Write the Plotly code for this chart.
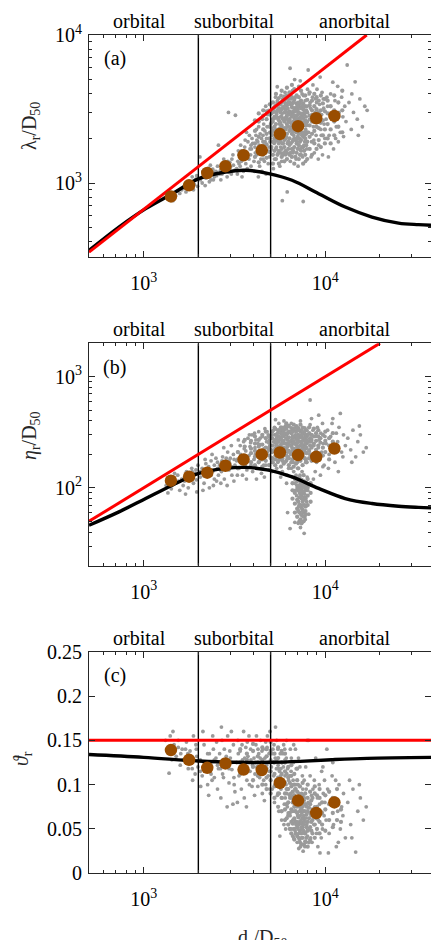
import math
import plotly.graph_objects as go

FONT = "Liberation Serif"
INK = "#262626"

# Regime boundaries and labels (ds/D50)
REGIME_BOUNDS = [2000, 5000]
REGIME_NAMES = ["orbital", "suborbital", "anorbital"]
REGIME_LABEL_X = [943, 3160, 14500]

# Bin-averaged values
BIN_DS = [1413, 1778, 2239, 2818, 3548, 4467, 5623, 7079, 8913, 11220]
BIN_LAMBDA = [812, 964, 1169, 1297, 1540, 1663, 2140, 2420, 2740, 2840]
BIN_ETA = [116, 126, 137, 158, 180, 200, 208, 197, 190, 226]
BIN_THETA = [0.139, 0.128, 0.119, 0.124, 0.117, 0.1165, 0.102, 0.082, 0.068, 0.080]

# Model curve (black)
MODEL_DS = [500, 731, 1026, 1439, 2013, 2825, 3633, 4878, 6560, 9190, 12880, 18070, 25300, 32600, 38200]
MODEL_LAMBDA = [350, 504, 671, 847, 1071, 1187, 1219, 1158, 1043, 847, 688, 589, 536, 523, 518]
MODEL_ETA = [46.1, 60.8, 80.2, 105.7, 134.8, 149.6, 152.8, 144.3, 125.6, 98.8, 80.2, 72.3, 68.4, 66.8, 66.1]
THETA_DS = [500, 1000, 2000, 3130, 5000, 7270, 11000, 17000, 38200]
MODEL_THETA = [0.134, 0.1308, 0.1267, 0.1252, 0.1252, 0.1263, 0.1282, 0.1297, 0.1308]

# Orbital-scaling lines (red)
RED_DS_A = [500, 16900]
RED_LAMBDA = [341, 10000]
RED_DS_B = [500, 20000]
RED_ETA = [50, 2000]
RED_DS_C = [500, 40000]
RED_THETA = [0.15, 0.15]

# Individual observations (ds/D50, lambda_r/D50)
SCAT_A = [
    (1330, 800), (1380, 830), (1420, 790), (1460, 860), (1500, 820), (1540, 880), (1580, 850), (1620, 900), (1360, 870), (1450, 760),
    (1680, 920), (1710, 870), (1750, 960), (1790, 1000), (1820, 930), (1860, 1020), (1900, 980), (1940, 1060), (1980, 950), (1720, 1010),
    (1850, 1100), (1960, 1120), (2040, 1500), (1880, 900),
    (2050, 1050), (2100, 1000), (2150, 1130), (2200, 1080), (2250, 1180), (2300, 1020), (2350, 1150), (2400, 1240), (2450, 1100),
    (2500, 1200), (2550, 1300), (2120, 1200), (2280, 1260), (2420, 1050), (2580, 1800), (2180, 960), (2520, 1120), (2330, 1320),
    (2620, 1150), (2680, 1250), (2720, 1350), (2780, 1200), (2840, 1300), (2900, 1400), (2950, 1180), (3000, 1280), (3060, 1450),
    (3120, 1320), (3180, 1220), (2660, 1050), (2760, 1450), (2880, 1100), (3040, 1150), (2930, 3000), (3200, 2870), (3100, 1550),
    (2980, 1380), (2700, 1150),
    (3250, 1250), (3300, 1400), (3350, 1550), (3400, 1300), (3450, 1650), (3500, 1450), (3550, 1200), (3600, 1750), (3650, 1350),
    (3700, 1600), (3750, 1900), (3800, 1450), (3850, 1700), (3900, 1300), (3950, 2000), (3280, 1150), (3420, 1800), (3580, 1500),
    (3720, 1250), (3880, 1550), (3980, 1850), (3320, 1650), (3680, 2200), (3820, 2100), (3480, 1100), (3620, 1950), (3920, 1700),
    (4050, 1400), (4100, 1750), (4150, 2100), (4200, 1550), (4250, 1900), (4300, 2400), (4350, 1300), (4400, 1650), (4450, 2000),
    (4500, 2700), (4550, 1450), (4600, 1800), (4650, 2250), (4700, 1600), (4750, 2000), (4800, 2900), (4850, 1350), (4900, 1750),
    (4950, 2200), (5000, 2500), (4080, 1200), (4180, 2300), (4320, 1800), (4480, 1200), (4620, 1400), (4780, 2400), (4920, 1500),
    (4120, 1600), (4380, 2150), (4580, 2500), (4700, 3300), (4880, 3100), (4200, 1950), (4420, 1450), (4660, 1900), (4960, 1900),
    (4280, 1100), (4540, 2100), (4820, 1650), (4720, 1150),
    (5050, 1700), (5100, 2100), (5150, 2600), (5200, 3200), (5250, 1450), (5300, 1900), (5350, 2300), (5400, 2900), (5450, 3600),
    (5500, 1600), (5550, 2000), (5600, 2500), (5650, 3100), (5700, 3900), (5750, 1400), (5800, 1850), (5850, 2200), (5900, 2700),
    (5950, 3300), (6000, 4100), (6050, 1550), (6100, 2050), (6150, 2400), (6200, 2900), (6250, 3500), (5080, 2350), (5180, 1250),
    (5280, 2750), (5380, 1750), (5480, 2200), (5580, 3400), (5680, 1750), (5780, 2950), (5880, 1600), (5980, 2300), (6080, 3700),
    (6180, 1850), (6280, 2600), (5120, 3000), (5320, 3800), (5440, 4470), (5620, 1300), (5820, 3550), (6020, 2000), (6220, 3200),
    (5800, 760), (6170, 870), (5360, 2050), (5520, 2750), (5720, 2350), (5920, 2050), (6120, 2750), (5230, 1850), (5660, 2800),
    (6060, 3050),
    (6350, 1800), (6400, 5960), (6450, 2300), (6500, 2800), (6550, 3400), (6600, 4200), (6650, 1600), (6700, 2100), (6750, 2600),
    (6800, 3100), (6850, 3800), (6900, 1450), (6950, 1900), (7000, 2400), (7050, 2900), (7100, 3500), (7150, 4500), (7200, 2000),
    (7250, 1700), (7300, 2700), (7350, 3200), (7400, 2200), (7450, 4000), (7500, 1500), (7560, 750), (7600, 2500), (7650, 3000),
    (7700, 1900), (7750, 3600), (7800, 2300), (7850, 2800), (7900, 1700), (7950, 3300), (6380, 2600), (6480, 3700), (6580, 1900),
    (6680, 2900), (6780, 5000), (6880, 2200), (6980, 3300), (7080, 1300), (7180, 2600), (7280, 4900), (7380, 1550), (7480, 2500),
    (7580, 3900), (7680, 2100), (7780, 1400), (7880, 2500), (7980, 4300), (6420, 1400), (6720, 3500), (7020, 2000), (7320, 2400),
    (7620, 1800), (6550, 2500), (6920, 2700), (7420, 2950),
    (8050, 5800), (8100, 2200), (8200, 2700), (8300, 3200), (8400, 1900), (8500, 3800), (8600, 2400), (8700, 1600), (8800, 3000),
    (8900, 2100), (9000, 4300), (9100, 2600), (9200, 1800), (9300, 3400), (9370, 5200), (9450, 2300), (9550, 2900), (9650, 1550),
    (9750, 3700), (9850, 2500), (9950, 2000), (8150, 4000), (8350, 1500), (8550, 4600), (8750, 2600), (8950, 3500), (9150, 1450),
    (9350, 2700), (9600, 4100), (9800, 3200), (8250, 3500), (8650, 1950), (9050, 2900), (9500, 2100), (8450, 2900), (8850, 3700),
    (10100, 2700), (10300, 3300), (10500, 2100), (10700, 4000), (10900, 2900), (11100, 1700), (11300, 3600), (11500, 2400),
    (11700, 4500), (11900, 3000), (12100, 2200), (12300, 3800), (12600, 2060), (12800, 3300), (13000, 2600), (13200, 6270),
    (10400, 1500), (11000, 4800), (11800, 1900), (12500, 2800), (10200, 3800), (11400, 2000),
    (13500, 3500), (13900, 2300), (14300, 3000), (14600, 4830), (15000, 2700), (15500, 3700), (16000, 2400), (16500, 3300),
    (17000, 3100), (14000, 4000), (15200, 2100),
    (3350, 1350), (3550, 1650), (3750, 1500), (3900, 1800), (3450, 1400), (3650, 1550),
    (2250, 1100), (2450, 1180), (2650, 1220), (2850, 1250), (2350, 1050), (2750, 1300),
]
# Dense core of the same cloud, grouped by ds/D50
DENSE_A = [
    (4100, [1500, 1850, 2250, 2650]), (4300, [1380, 1700, 2050, 2600, 2950]), (4550, [1550, 1900, 2300, 2850, 3100]),
    (4750, [1480, 1820, 2150, 2700, 3050]), (4950, [1620, 2000, 2400, 2900, 3400]),
    (5150, [1350, 1550, 1900, 2250, 2700, 3100, 3500]), (5350, [1450, 1700, 2100, 2500, 3000, 3350, 4000]),
    (5550, [1350, 1650, 1850, 2300, 2650, 3200, 3750]), (5750, [1500, 1700, 2050, 2450, 2800, 3150, 3500, 4200]),
    (5950, [1400, 1750, 1950, 2350, 2600, 3000, 3600, 3850]), (6150, [1450, 1600, 2150, 2500, 2850, 3350, 3900, 4400]),
    (6350, [1550, 2000, 2250, 2700, 3050, 3500, 4100]), (6550, [1500, 1700, 2150, 2400, 2950, 3250, 3800, 4600]),
    (6750, [1350, 1750, 2000, 2350, 2750, 3200, 3650, 4300]), (6950, [1600, 1850, 2200, 2550, 2850, 3450, 3900]),
    (7150, [1450, 1800, 2150, 2450, 3000, 3300, 3800]), (7350, [1650, 1950, 2350, 2600, 2900, 3600, 4200]),
    (7550, [1350, 1750, 2050, 2750, 3150, 3450]), (7750, [1550, 2000, 2450, 2650, 3300, 3900]),
    (7950, [1450, 1900, 2200, 2600, 3000, 3650]), (8200, [1700, 2050, 2450, 2850, 3350, 4100]),
    (8450, [1550, 2150, 2600, 3100, 3600]), (8700, [1850, 2250, 2800, 3300, 4000]), (8950, [1700, 2400, 2700, 3150, 3800]),
    (9200, [1950, 2350, 3000, 3600]), (9450, [1750, 2550, 3100, 3900]), (9700, [2100, 2650, 3450]),
    (9950, [1850, 2300, 3050, 3700]), (10300, [2000, 2500, 2950, 3600]), (10700, [1850, 2300, 3300]),
    (11200, [2100, 2600, 3100, 3900]), (11800, [2400, 2800, 3500]), (12400, [2200, 3100, 4200]),
    (5050, [1750, 2150, 2550, 2950]), (5250, [1650, 2000, 2400, 2800, 3250]), (5450, [1550, 1950, 2200, 2750, 3100, 3500]),
    (5650, [1600, 1900, 2350, 2550, 3000, 3400]), (5850, [1550, 1850, 2250, 2700, 3250, 3700]),
    (6050, [1650, 2000, 2300, 2750, 3150, 3450]), (6250, [1700, 1900, 2400, 2650, 3000, 3700]),
    (6450, [1600, 1850, 2300, 2550, 2900, 3400]), (6650, [1650, 1950, 2250, 2600, 3050, 3500]),
    (6850, [1500, 1950, 2400, 2700, 3050]), (7050, [1700, 2050, 2350, 2700, 3150]), (7250, [1550, 1900, 2250, 2750, 3450]),
    (7450, [1750, 2100, 2450, 2800, 3300]), (7650, [1650, 2200, 2550, 2900]), (7850, [1800, 2150, 2450, 3100]),
]

# Individual observations (ds/D50, eta_r/D50)
SCAT_B = [
    (1330, 105), (1380, 118), (1420, 98), (1460, 125), (1500, 110), (1540, 130), (1580, 95), (1620, 120), (1360, 90), (1480, 135),
    (1680, 115), (1720, 140), (1760, 100), (1800, 125), (1840, 150), (1880, 110), (1920, 135), (1960, 92), (1990, 160), (1700, 88),
    (1850, 120), (1940, 145),
    (2050, 125), (2100, 150), (2150, 110), (2200, 165), (2250, 135), (2300, 100), (2350, 175), (2400, 140), (2450, 120), (2500, 185),
    (2550, 150), (2120, 95), (2280, 155), (2420, 105), (2580, 130), (2180, 180), (2380, 200), (2520, 115),
    (2620, 160), (2680, 140), (2720, 190), (2780, 120), (2840, 170), (2900, 210), (2950, 145), (3000, 185), (3060, 130), (3120, 200),
    (3180, 160), (2660, 110), (2760, 230), (2880, 105), (3040, 240), (3140, 115), (2980, 165), (2700, 175),
    (3250, 175), (3300, 210), (3350, 150), (3400, 240), (3450, 190), (3500, 130), (3550, 260), (3600, 170), (3650, 215), (3700, 145),
    (3750, 280), (3800, 195), (3850, 235), (3900, 160), (3950, 300), (3280, 130), (3420, 200), (3580, 225), (3720, 185), (3880, 255),
    (3980, 140), (3320, 270), (3680, 120), (3820, 300), (3480, 165),
    (4050, 180), (4100, 230), (4150, 270), (4200, 150), (4250, 205), (4300, 320), (4350, 175), (4400, 245), (4450, 135), (4500, 290),
    (4550, 195), (4600, 225), (4650, 340), (4700, 160), (4750, 260), (4800, 210), (4850, 300), (4900, 145), (4950, 240), (5000, 185),
    (4080, 310), (4180, 120), (4320, 215), (4480, 190), (4620, 125), (4780, 320), (4920, 270), (4120, 200), (4380, 280), (4580, 160),
    (4880, 230), (4700, 195), (4260, 250),
    (5050, 220), (5100, 300), (5150, 170), (5200, 260), (5250, 350), (5300, 195), (5350, 240), (5400, 150), (5450, 310), (5500, 210),
    (5550, 380), (5600, 180), (5650, 270), (5700, 230), (5750, 330), (5800, 140), (5850, 200), (5900, 290), (5950, 250), (6000, 170),
    (6050, 360), (6100, 215), (6150, 130), (6200, 280), (6250, 190), (5080, 140), (5180, 330), (5280, 270), (5380, 200), (5480, 170),
    (5580, 290), (5680, 125), (5780, 250), (5880, 350), (5980, 220), (6080, 280), (6180, 240), (6280, 150), (5320, 410), (5620, 330),
    (5920, 400), (6120, 110), (5220, 215), (5520, 260), (5820, 185), (6020, 310),
    (6350, 260), (6400, 320), (6450, 200), (6500, 380), (6550, 230), (6600, 290), (6650, 170), (6700, 340), (6750, 250), (6800, 210),
    (6850, 300), (6900, 190), (6950, 360), (7000, 240), (7050, 280), (7100, 220), (7150, 330), (7200, 180), (7250, 260), (7300, 400),
    (7350, 200), (7400, 300), (7450, 240), (7500, 350), (7550, 190), (7600, 280), (7650, 220), (7700, 320), (7750, 250), (7800, 170),
    (7850, 300), (7900, 230), (7950, 270),
    (6500, 150), (6600, 125), (6700, 140), (6800, 110), (6900, 130), (7000, 100), (7100, 120), (7200, 90), (7300, 110), (7400, 80),
    (7500, 100), (7600, 70), (7700, 88), (7800, 62), (7900, 75), (6950, 85), (7150, 68), (7350, 58), (7550, 55), (7750, 52),
    (7050, 150), (7250, 130), (7450, 140), (7650, 115), (7850, 105), (6850, 95), (7500, 62), (7100, 48), (7300, 44), (6800, 49),
    (7650, 39), (6400, 43), (6200, 60), (8000, 95), (8100, 58), (7950, 125),
    (8050, 300), (8150, 220), (8250, 370), (8350, 260), (8450, 190), (8550, 330), (8650, 240), (8750, 200), (8850, 290), (8950, 170),
    (9050, 350), (9150, 230), (9250, 270), (9350, 180), (9450, 310), (9550, 210), (9650, 380), (9750, 250), (9850, 160), (9950, 290),
    (8250, 617), (8400, 420), (9200, 450), (9700, 155), (8800, 140), (9400, 130), (8600, 120),
    (10100, 250), (10300, 330), (10500, 200), (10700, 290), (10900, 380), (11100, 230), (11300, 170), (11500, 310), (11700, 260),
    (11900, 350), (12100, 467), (12300, 210), (12600, 300), (12900, 240), (10400, 150), (11000, 420), (11800, 140), (12500, 190),
    (13300, 280), (13800, 220), (14200, 330), (14700, 190), (15100, 260), (15600, 300), (16200, 210), (16800, 230), (14000, 170),
    (15400, 360),
    (1550, 115), (1650, 105), (1750, 130), (1850, 140), (1950, 118), (2050, 140), (2150, 128), (2250, 150), (2350, 130),
    (2450, 160), (2550, 170), (2650, 145), (2750, 155), (2850, 185), (2950, 175), (3050, 155), (3150, 180),
]
DENSE_B = [
    (3300, [150, 180, 210]), (3600, [160, 195, 235, 270]), (3900, [170, 205, 225, 265]), (4100, [160, 190, 215, 250, 290]),
    (4300, [170, 200, 235, 270]), (4500, [155, 180, 215, 245, 300]), (4700, [175, 205, 230, 280, 320]),
    (4900, [160, 195, 220, 255, 290]), (5100, [170, 185, 210, 240, 280, 320]), (5300, [160, 180, 225, 255, 300, 340]),
    (5500, [175, 195, 235, 265, 290, 330]), (5700, [155, 185, 210, 245, 275, 310, 350]),
    (5900, [165, 200, 230, 265, 300, 330]), (6100, [175, 195, 225, 250, 300, 340, 380]),
    (6300, [160, 185, 215, 245, 285, 320, 360]), (6500, [170, 205, 240, 265, 310, 345]),
    (6700, [155, 190, 225, 260, 290, 330, 370]), (6900, [165, 215, 245, 275, 320, 350]),
    (7100, [150, 195, 230, 265, 300, 345]), (7300, [175, 210, 240, 285, 320, 370]), (7500, [160, 200, 230, 265, 305]),
    (7700, [185, 210, 240, 280, 345]), (7900, [170, 205, 250, 290, 330]), (8150, [185, 215, 260, 310, 350]),
    (8400, [175, 230, 270, 300]), (8650, [200, 250, 290, 340]), (8900, [190, 220, 265, 310]), (9150, [180, 240, 290, 330]),
    (9400, [205, 255, 280]), (9700, [195, 230, 300]), (10000, [210, 265, 320]), (10500, [180, 240, 280]),
    (11000, [220, 260, 310]),
    (5400, [190, 215, 250, 280]), (5800, [175, 220, 255, 290, 320]), (6200, [185, 210, 235, 270, 310]),
    (6600, [180, 215, 250, 280, 320]), (7000, [170, 205, 230, 255, 290, 330]), (7400, [190, 220, 250, 290, 330]),
    (7800, [180, 225, 260, 300]), (8250, [200, 240, 280]),
    (6600, [110, 95, 80]), (6800, [120, 90, 72, 60]), (7000, [115, 105, 78, 65, 55]), (7200, [125, 100, 82, 70, 60, 50]),
    (7400, [118, 95, 85, 66, 57, 48]), (7600, [130, 105, 90, 78, 60, 50]), (7800, [110, 95, 80, 68, 58]),
    (8000, [120, 100, 85, 70]), (8300, [110, 90, 75]),
    (7100, [95, 75, 62]), (7300, [105, 88, 70, 52]), (7500, [112, 92, 75, 64]), (7700, [100, 82, 70, 55]),
]

# Individual observations (ds/D50, steepness)
SCAT_C = [
    (1320, 0.150), (1360, 0.138), (1400, 0.155), (1430, 0.128), (1470, 0.145), (1510, 0.132), (1550, 0.150), (1590, 0.122),
    (1630, 0.140), (1380, 0.113), (1450, 0.160), (1600, 0.135),
    (1680, 0.127), (1720, 0.148), (1760, 0.118), (1800, 0.138), (1840, 0.125), (1880, 0.155), (1920, 0.112), (1960, 0.132),
    (1990, 0.120), (1700, 0.140), (1860, 0.105), (1940, 0.145), (1780, 0.130),
    (2050, 0.128), (2100, 0.110), (2150, 0.145), (2200, 0.118), (2250, 0.100), (2300, 0.135), (2350, 0.122), (2400, 0.155),
    (2450, 0.108), (2500, 0.130), (2550, 0.095), (2120, 0.160), (2280, 0.088), (2420, 0.140), (2580, 0.118), (2180, 0.125),
    (2380, 0.105), (2520, 0.148), (2060, 0.098),
    (2620, 0.135), (2680, 0.165), (2720, 0.112), (2780, 0.140), (2840, 0.122), (2900, 0.155), (2950, 0.102), (3000, 0.130),
    (3060, 0.117), (3120, 0.145), (3180, 0.092), (2660, 0.085), (2760, 0.125), (2880, 0.075), (3040, 0.160), (3140, 0.108),
    (2980, 0.138), (2700, 0.150), (3100, 0.078),
    (3250, 0.125), (3300, 0.150), (3350, 0.110), (3400, 0.138), (3450, 0.095), (3500, 0.128), (3550, 0.160), (3600, 0.118),
    (3650, 0.142), (3700, 0.105), (3750, 0.132), (3800, 0.155), (3850, 0.115), (3900, 0.128), (3950, 0.098), (3280, 0.080),
    (3420, 0.120), (3580, 0.085), (3720, 0.148), (3880, 0.140), (3980, 0.122), (3320, 0.135), (3680, 0.075), (3820, 0.100),
    (3480, 0.145), (3600, 0.130),
    (4050, 0.130), (4100, 0.112), (4150, 0.145), (4200, 0.120), (4250, 0.098), (4300, 0.135), (4350, 0.108), (4400, 0.150),
    (4450, 0.125), (4500, 0.090), (4550, 0.140), (4600, 0.115), (4650, 0.130), (4700, 0.100), (4750, 0.122), (4800, 0.155),
    (4850, 0.110), (4900, 0.135), (4950, 0.095), (5000, 0.128), (4080, 0.088), (4180, 0.155), (4320, 0.118), (4480, 0.138),
    (4620, 0.082), (4780, 0.142), (4920, 0.115), (4120, 0.125), (4380, 0.130), (4580, 0.105), (4880, 0.125), (4700, 0.148),
    (4260, 0.140), (4960, 0.160), (4500, 0.118),
    (5050, 0.120), (5100, 0.095), (5150, 0.140), (5200, 0.110), (5250, 0.080), (5300, 0.130), (5350, 0.105), (5400, 0.150),
    (5450, 0.088), (5500, 0.122), (5550, 0.070), (5600, 0.115), (5650, 0.135), (5700, 0.095), (5750, 0.060), (5800, 0.125),
    (5850, 0.100), (5900, 0.145), (5950, 0.078), (6000, 0.110), (6050, 0.050), (6100, 0.130), (6150, 0.090), (6200, 0.118),
    (6250, 0.068), (5080, 0.135), (5180, 0.125), (5280, 0.100), (5380, 0.118), (5480, 0.140), (5580, 0.090), (5680, 0.110),
    (5780, 0.085), (5880, 0.120), (5980, 0.140), (6080, 0.100), (6180, 0.075), (6280, 0.105), (5320, 0.165), (5620, 0.042),
    (5920, 0.055), (6120, 0.150), (5220, 0.145), (5520, 0.102), (5820, 0.135), (6020, 0.085), (5400, 0.128), (5700, 0.118),
    (6000, 0.128), (6200, 0.095),
    (6350, 0.110), (6400, 0.065), (6450, 0.090), (6500, 0.130), (6550, 0.050), (6600, 0.080), (6650, 0.105), (6700, 0.040),
    (6750, 0.070), (6800, 0.095), (6850, 0.140), (6900, 0.055), (6950, 0.085), (7000, 0.035), (7050, 0.065), (7100, 0.100),
    (7150, 0.045), (7200, 0.075), (7250, 0.120), (7300, 0.030), (7350, 0.060), (7400, 0.090), (7450, 0.050), (7500, 0.080),
    (7550, 0.025), (7600, 0.065), (7650, 0.105), (7700, 0.045), (7750, 0.070), (7800, 0.035), (7850, 0.095), (7900, 0.055),
    (7950, 0.150), (6380, 0.085), (6480, 0.115), (6580, 0.070), (6680, 0.125), (6780, 0.060), (6880, 0.100), (6980, 0.075),
    (7080, 0.050), (7180, 0.090), (7280, 0.065), (7380, 0.040), (7480, 0.110), (7580, 0.055), (7680, 0.085), (7780, 0.058),
    (7880, 0.075), (7980, 0.042), (6420, 0.140), (6720, 0.088), (7020, 0.058), (7320, 0.078), (7620, 0.048), (6550, 0.100),
    (6920, 0.118), (7420, 0.068), (7120, 0.130), (6620, 0.060), (7220, 0.038), (7520, 0.095), (6820, 0.048), (7720, 0.030),
    (7060, 0.082), (7360, 0.052), (6700, 0.145), (7800, 0.120), (7150, 0.028),
    (8050, 0.080), (8150, 0.050), (8250, 0.110), (8350, 0.065), (8450, 0.035), (8550, 0.095), (8650, 0.055), (8750, 0.075),
    (8850, 0.130), (8950, 0.045), (9050, 0.085), (9150, 0.060), (9250, 0.100), (9350, 0.023), (9450, 0.070), (9550, 0.115),
    (9650, 0.050), (9750, 0.090), (9850, 0.065), (9950, 0.080), (8100, 0.150), (8300, 0.040), (8700, 0.105), (9100, 0.030),
    (9500, 0.040), (9900, 0.105), (8400, 0.088), (8900, 0.062), (9300, 0.078), (9700, 0.120),
    (10100, 0.060), (10300, 0.095), (10500, 0.045), (10700, 0.080), (10900, 0.110), (11100, 0.055), (11300, 0.085),
    (11500, 0.030), (11700, 0.070), (11900, 0.100), (12100, 0.050), (12300, 0.075), (12600, 0.090), (12900, 0.040),
    (10400, 0.023), (11000, 0.125), (11800, 0.035), (12500, 0.065), (10200, 0.140), (11400, 0.105),
    (13300, 0.080), (13800, 0.055), (14200, 0.095), (14700, 0.024), (15100, 0.070), (15600, 0.085), (16200, 0.060),
    (16800, 0.075), (14000, 0.040), (15400, 0.100), (13600, 0.105),
    (1550, 0.142), (1650, 0.128), (1750, 0.135), (1850, 0.118), (1950, 0.140), (2050, 0.115), (2150, 0.125), (2250, 0.135),
    (2350, 0.112), (2450, 0.128), (2550, 0.122), (2650, 0.118), (2750, 0.108), (2850, 0.132), (2950, 0.118), (3050, 0.125),
    (3150, 0.100),
]
DENSE_C = [
    (3400, [0.112, 0.125, 0.140]), (3700, [0.118, 0.128, 0.135]), (4000, [0.105, 0.120, 0.138, 0.146]),
    (4250, [0.110, 0.125, 0.132]), (4500, [0.100, 0.112, 0.128, 0.142]), (4750, [0.095, 0.108, 0.118, 0.132, 0.140]),
    (5000, [0.090, 0.105, 0.115, 0.125, 0.138, 0.148]), (5250, [0.085, 0.098, 0.112, 0.125, 0.135]),
    (5500, [0.075, 0.090, 0.108, 0.118, 0.130, 0.142]), (5750, [0.070, 0.085, 0.098, 0.112, 0.125, 0.138]),
    (6000, [0.060, 0.072, 0.090, 0.102, 0.115, 0.125, 0.135]), (6250, [0.055, 0.065, 0.080, 0.095, 0.108, 0.120]),
    (6500, [0.045, 0.058, 0.072, 0.085, 0.098, 0.110, 0.122]), (6750, [0.038, 0.050, 0.062, 0.075, 0.088, 0.100, 0.112]),
    (7000, [0.042, 0.052, 0.068, 0.078, 0.092, 0.105, 0.118]), (7250, [0.035, 0.048, 0.058, 0.070, 0.085, 0.098]),
    (7500, [0.040, 0.052, 0.062, 0.075, 0.088, 0.102]), (7750, [0.036, 0.045, 0.062, 0.078, 0.090]),
    (8000, [0.030, 0.048, 0.058, 0.070, 0.085, 0.100]), (8250, [0.038, 0.052, 0.068, 0.078, 0.092]),
    (8500, [0.045, 0.060, 0.072, 0.085]), (8750, [0.040, 0.055, 0.068, 0.090, 0.098]),
    (9000, [0.050, 0.062, 0.075, 0.088]), (9300, [0.045, 0.058, 0.085, 0.095]), (9600, [0.055, 0.068, 0.080]),
    (10000, [0.048, 0.072, 0.088]), (10500, [0.060, 0.078, 0.092]), (11000, [0.052, 0.068, 0.085]),
    (11600, [0.060, 0.080, 0.095]), (12200, [0.058, 0.072]),
    (6125, [0.062, 0.078, 0.095, 0.112]), (6375, [0.050, 0.068, 0.088, 0.102]), (6625, [0.042, 0.056, 0.080, 0.092]),
    (6875, [0.045, 0.058, 0.070, 0.082, 0.095]), (7125, [0.040, 0.055, 0.063, 0.080]),
    (7375, [0.033, 0.045, 0.056, 0.072, 0.082]), (7625, [0.032, 0.046, 0.058, 0.070, 0.082]),
    (7875, [0.040, 0.052, 0.066, 0.076]), (8125, [0.035, 0.062, 0.074]), (8375, [0.048, 0.058, 0.082]),
]

# Axis settings
X_RANGE_LOG = [math.log10(500), 4.582]
Y_RANGE_A_LOG = [2.5, 4.0]
Y_RANGE_B_LOG = [1.3, 3.3]
Y_RANGE_C = [0.0, 0.25]
X_MINOR = [600, 700, 800, 900, 2000, 3000, 4000, 5000, 6000, 7000, 8000, 9000, 20000, 30000]
YA_MINOR = [400, 500, 600, 700, 800, 900, 2000, 3000, 4000, 5000, 6000, 7000, 8000, 9000]
YB_MINOR = [30, 40, 50, 60, 70, 80, 90, 200, 300, 400, 500, 600, 700, 800, 900]

W, H = 431, 940
PLOT_LEFT = 89
PANELS = [  # top and bottom pixel rows of each plotting area
    (35.0, 257.0),
    (343.3, 565.7),
    (651.7, 873.3),
]

GRAY = "#9a9a9a"
BROWN = "rgb(153,77,0)"
RED = "#ff0000"


def cloud(points, dense):
    xs = [p[0] for p in points]
    ys = [p[1] for p in points]
    dx, dy = [], []
    for d, vals in dense:
        dx += [d] * len(vals)
        dy += vals
    return xs, ys, dx, dy


fig = go.Figure()

panel_data = [
    dict(scat=cloud(SCAT_A, DENSE_A), bin_y=BIN_LAMBDA, mx=MODEL_DS, my=MODEL_LAMBDA, rx=RED_DS_A, ry=RED_LAMBDA,
         yr=[10 ** Y_RANGE_A_LOG[0], 10 ** Y_RANGE_A_LOG[1]]),
    dict(scat=cloud(SCAT_B, DENSE_B), bin_y=BIN_ETA, mx=MODEL_DS, my=MODEL_ETA, rx=RED_DS_B, ry=RED_ETA,
         yr=[10 ** Y_RANGE_B_LOG[0], 10 ** Y_RANGE_B_LOG[1]]),
    dict(scat=cloud(SCAT_C, DENSE_C), bin_y=BIN_THETA, mx=THETA_DS, my=MODEL_THETA, rx=RED_DS_C, ry=RED_THETA,
         yr=Y_RANGE_C),
]

for i, pd_ in enumerate(panel_data):
    xa = "x" if i == 0 else f"x{i + 1}"
    ya = "y" if i == 0 else f"y{i + 1}"
    sx, sy, dx, dy = pd_["scat"]
    fig.add_trace(go.Scatter(
        x=dx, y=dy, mode="markers",
        marker=dict(size=4.3, color=GRAY, line=dict(width=0)), xaxis=xa, yaxis=ya, showlegend=False,
        hoverinfo="skip"))
    fig.add_trace(go.Scatter(
        x=sx, y=sy, mode="markers",
        marker=dict(size=3.8, color=GRAY, line=dict(width=0)), xaxis=xa, yaxis=ya, showlegend=False,
        hoverinfo="skip"))
    for b in REGIME_BOUNDS:
        fig.add_trace(go.Scatter(
            x=[b, b], y=pd_["yr"], mode="lines", line=dict(color="black", width=1.4),
            xaxis=xa, yaxis=ya, showlegend=False, hoverinfo="skip"))
    fig.add_trace(go.Scatter(
        x=pd_["mx"], y=pd_["my"], mode="lines", line=dict(color="black", width=3.4, shape="spline"),
        xaxis=xa, yaxis=ya, showlegend=False))
    fig.add_trace(go.Scatter(
        x=pd_["rx"], y=pd_["ry"], mode="lines", line=dict(color=RED, width=3),
        xaxis=xa, yaxis=ya, showlegend=False))
    fig.add_trace(go.Scatter(
        x=BIN_DS, y=pd_["bin_y"], mode="markers",
        marker=dict(size=12.5, color=BROWN, line=dict(width=0)), xaxis=xa, yaxis=ya, showlegend=False))

tick_font = dict(family=FONT, size=20, color="black")
axis_common = dict(
    showline=True, linecolor=INK, linewidth=1.2, mirror="allticks",
    ticks="inside", ticklen=6, tickwidth=1, tickcolor=INK, automargin=False,
    showgrid=False, zeroline=False, tickfont=tick_font,
)

layout = dict(
    template="none",
    width=W, height=H, margin=dict(l=0, r=0, t=0, b=0, pad=0, autoexpand=False),
    paper_bgcolor="white", plot_bgcolor="white", showlegend=False,
    font=dict(family=FONT, size=20, color="black"),
)

x_minor = dict(tickvals=X_MINOR, ticks="inside", ticklen=3, tickcolor=INK, showgrid=False)
for i, (top, bot) in enumerate(PANELS):
    sfx = "" if i == 0 else str(i + 1)
    ydom = [1 - bot / H, 1 - top / H]
    layout["xaxis" + sfx] = dict(
        axis_common, type="log", range=X_RANGE_LOG, domain=[PLOT_LEFT / W, 1.0],
        anchor="y" + sfx, tickvals=[1000, 10000], ticktext=["10<sup>3</sup>", "10<sup>4</sup>"],
        minor=x_minor, ticklabelstandoff=8)
    if i == 0:
        yax = dict(type="log", range=Y_RANGE_A_LOG, tickvals=[1000, 10000],
                   ticktext=["10<sup>3</sup>", "10<sup>4</sup>"],
                   minor=dict(tickvals=YA_MINOR, ticks="inside", ticklen=3, tickcolor=INK, showgrid=False))
    elif i == 1:
        yax = dict(type="log", range=Y_RANGE_B_LOG, tickvals=[100, 1000],
                   ticktext=["10<sup>2</sup>", "10<sup>3</sup>"],
                   minor=dict(tickvals=YB_MINOR, ticks="inside", ticklen=3, tickcolor=INK, showgrid=False))
    else:
        yax = dict(type="linear", range=Y_RANGE_C, tickvals=[0, 0.05, 0.1, 0.15, 0.2, 0.25],
                   ticktext=["0", "0.05", "0.1", "0.15", "0.2", "0.25"])
    layout["yaxis" + sfx] = dict(axis_common, domain=ydom, anchor="x" + sfx, ticklabelstandoff=2, **yax)

fig.update_layout(**layout)

# Regime names above each panel, panel letters, axis titles
anns = []
letters = ["(a)", "(b)", "(c)"]
ytitles = ["λ<sub>r</sub>/D<sub>50</sub>", "<i>η</i><sub>r</sub>/D<sub>50</sub>", "<i>ϑ</i><sub>r</sub>"]
ytitle_pos = [(30, 126), (30, 436), (22, 759)]
for i, (top, bot) in enumerate(PANELS):
    sfx = "" if i == 0 else str(i + 1)
    for name, xv in zip(REGIME_NAMES, REGIME_LABEL_X):
        anns.append(dict(x=math.log10(xv), y=1 - (top - 14) / H, xref="x" + sfx, yref="paper",
                         text=name, showarrow=False, xanchor="center", yanchor="middle",
                         font=dict(family=FONT, size=20, color="black")))
    anns.append(dict(x=115 / W, y=1 - (top + 24) / H, xref="paper", yref="paper", text=letters[i],
                     showarrow=False, xanchor="center", yanchor="middle",
                     font=dict(family=FONT, size=20, color="black")))
    tx, ty = ytitle_pos[i]
    anns.append(dict(x=tx / W, y=1 - ty / H, xref="paper", yref="paper", text=ytitles[i],
                     showarrow=False, textangle=-90, xanchor="center", yanchor="middle",
                     font=dict(family=FONT, size=20, color=INK)))
anns.append(dict(x=262 / W, y=1 - 938 / H, xref="paper", yref="paper", text="d<sub>s</sub>/D<sub>50</sub>",
                 showarrow=False, xanchor="center", yanchor="middle",
                 font=dict(family=FONT, size=20, color=INK)))
fig.update_layout(annotations=anns)

fig.write_html("out.html")
